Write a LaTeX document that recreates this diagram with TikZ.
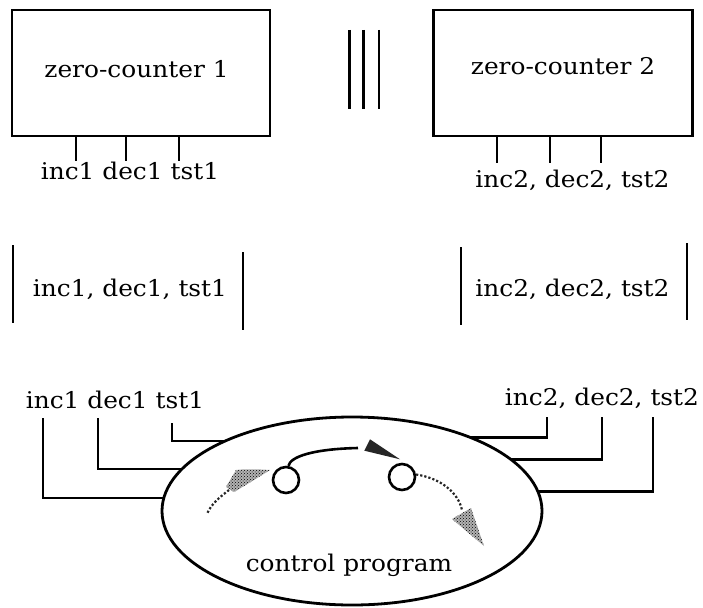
\documentclass[tikz,border=0pt]{standalone}
\usepackage{fontspec}
\setmainfont{DejaVu Serif}[FakeStretch=1.08]
\usetikzlibrary{shapes.geometric,patterns}

\tikzset{
  lbl/.style={font=\fontsize{23}{27}\selectfont, inner sep=0pt, anchor=base},
  box/.style={draw, line width=2.6pt, inner sep=0pt, outer sep=0pt},
  wire/.style={line width=2.4pt},
  bar/.style={line width=2.6pt},
  stipple/.style={preaction={fill=black!30}, pattern=crosshatch dots, pattern color=black},
  dotline/.style={line width=2.2pt, dotted, black!85}
}

\begin{document}
\begin{tikzpicture}[x=1pt, y=-1pt]
\useasboundingbox (0,0) rectangle (703,607);

% ---- the two zero-counters ----
\node[box, minimum width=258pt, minimum height=126pt] (box1) at (141,73) {};
\node[lbl] (zc1) at (136.5,78) {zero-counter 1};
\node[box, minimum width=259pt, minimum height=126pt] (box2) at (563,73) {};
\node[lbl] (zc2) at (563,75) {zero-counter 2};

% ports of counter 1
\node[lbl] (ports1) at (130,179) {inc1 dec1 tst1};
\coordinate (t11) at (75.7,161);
\coordinate (t12) at (125.7,161);
\coordinate (t13) at (179,161);
\foreach \t in {t11,t12,t13} \draw[wire] (box1.south -| \t) -- (\t);

% ports of counter 2
\node[lbl] (ports2) at (572.5,187) {inc2, dec2, tst2};
\coordinate (t21) at (496.7,163);
\coordinate (t22) at (550,163);
\coordinate (t23) at (601,163);
\foreach \t in {t21,t22,t23} \draw[wire] (box2.south -| \t) -- (\t);

% parallel composition
\draw[bar] (349.3,30) -- (349.3,109);
\draw[bar] (363.3,30) -- (363.3,109);
\draw[bar] (379,30) -- (379,109);

% ---- restricted port sets ----
\node[lbl] (res1) at (130,296) {inc1, dec1, tst1};
\draw[bar] (13,245) -- (13,323);
\draw[bar] (243,252) -- (243,330);
\node[lbl] (res2) at (572.5,296) {inc2, dec2, tst2};
\draw[bar] (461,247) -- (461,325);
\draw[bar] (687,243) -- (687,320);

% ---- control program ----
\node[draw, ellipse, line width=2.8pt, minimum width=380pt, minimum height=188pt,
      inner sep=0pt, outer sep=0pt] (prog) at (352,511) {};
\node[lbl] (ctl) at (349,571) {control program};

\node[lbl] (cp1) at (115,408) {inc1 dec1 tst1};
\node[lbl] (cp2) at (602,405) {inc2, dec2, tst2};

\coordinate (p11) at (43,418);
\coordinate (p12) at (98,418);
\coordinate (p13) at (172,423);
\coordinate (p21) at (547,417);
\coordinate (p22) at (602,417);
\coordinate (p23) at (653,417);
\draw[wire] (p11) |- (prog.176);
\draw[wire] (p12) |- (prog.166);
\draw[wire] (p13) |- (prog.151);
\draw[wire] (p21) |- (prog.32);
\draw[wire] (p22) |- (prog.18);
\draw[wire] (p23) |- (prog.6);

% states and transitions
\node[draw, circle, line width=2.6pt, minimum size=26pt, inner sep=0pt] (s1) at (286,480) {};
\node[draw, circle, line width=2.6pt, minimum size=26pt, inner sep=0pt] (s2) at (402,477) {};

\coordinate (hb) at (358,448);
\draw[line width=2.6pt] (s1.80) .. controls (290,457) and (312,449) .. (hb);
\fill[black!85] (364.3,450.7) -- (370,439.3) -- (400,459.3) -- cycle;

% incoming (left) and outgoing (right) shaded flows
\fill[stipple] (270,470) .. controls (256,469) and (243,469) .. (236,470)
  -- (226,487) -- (234,492) .. controls (246,485) and (259,477) .. (270,470) -- cycle;
\draw[dotline] (229,490) .. controls (220,497) and (211,504) .. (207,514);

\draw[dotline] (s2.10) .. controls (440,478) and (458,492) .. (462,510);
\fill[stipple] (452,519) -- (471,508) -- (484,546) -- cycle;
\end{tikzpicture}
\end{document}
